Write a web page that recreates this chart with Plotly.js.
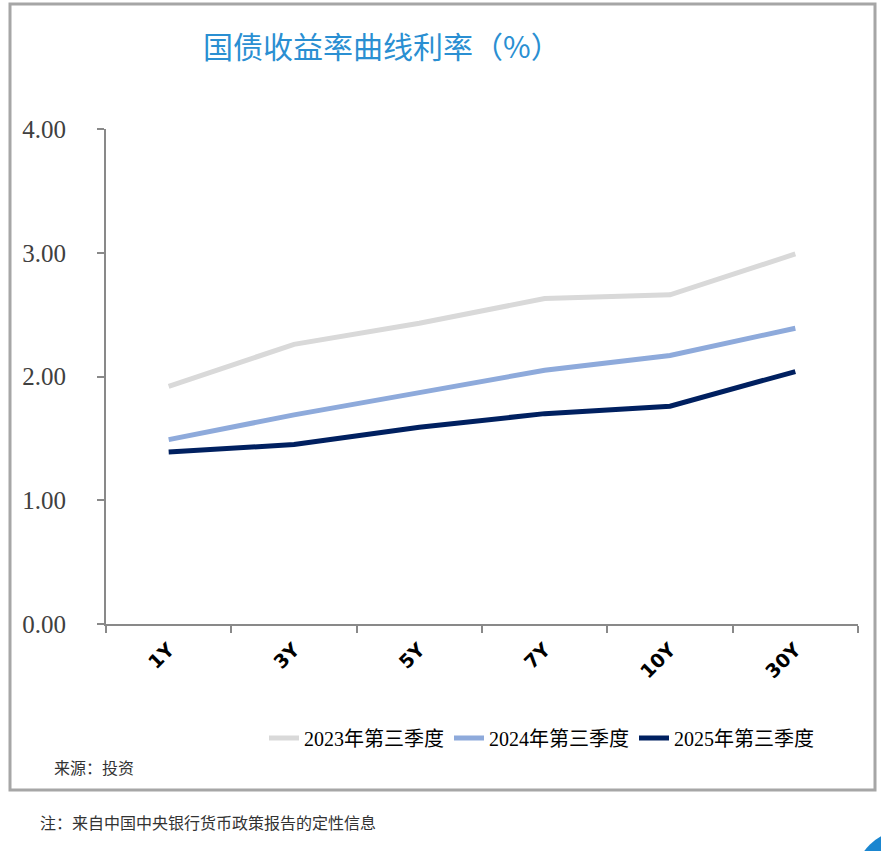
<!DOCTYPE html>
<html>
<head>
<meta charset="utf-8">
<script src="https://cdn.plot.ly/plotly-3.0.1.min.js"></script>
<style>
html,body{margin:0;padding:0;background:#fff;}
#chart{width:881px;height:851px;}
</style>
</head>
<body>
<div id="chart"></div>
<script>
const categories = ["1Y", "3Y", "5Y", "7Y", "10Y", "30Y"];
const series2023 = [1.92, 2.26, 2.43, 2.63, 2.66, 2.99];
const series2024 = [1.49, 1.69, 1.87, 2.05, 2.17, 2.39];
const series2025 = [1.39, 1.45, 1.59, 1.70, 1.76, 2.04];
const seriesNames = ["2023年第三季度", "2024年第三季度", "2025年第三季度"];
const yTicks = [0, 1, 2, 3, 4];
const yTickLabels = ["0.00", "1.00", "2.00", "3.00", "4.00"];

const W = 881, H = 851;
const L = 106, R = 858, T = 129, B = 624;
const px = v => (v - L) / (R - L);
const py = v => (B - v) / (B - T);

const colors = ["#d9d9d9", "#8eaadb", "#002060"];
const data = [series2023, series2024, series2025].map((ys, i) => ({
  type: "scatter",
  mode: "lines",
  x: categories,
  y: ys,
  name: seriesNames[i],
  line: {color: colors[i], width: 5},
  hoverinfo: "x+y+name"
}));

const layout = {
  width: W, height: H,
  margin: {l: L, r: W - R, t: T, b: H - B, pad: 0},
  paper_bgcolor: "#ffffff",
  plot_bgcolor: "#ffffff",
  title: {
    text: "国债收益率曲线利率（%）",
    x: 203 / W, xanchor: "left", xref: "container",
    y: 1 - 47 / H, yanchor: "middle", yref: "container",
    font: {family: "Noto Sans CJK SC, sans-serif", size: 30, color: "#2a8fd2"}
  },
  xaxis: {
    type: "category",
    range: [-0.5, 5.5],
    tickson: "boundaries",
    ticks: "outside", ticklen: 7, tickwidth: 2, tickcolor: "#898989",
    showline: true, linecolor: "#898989", linewidth: 2,
    showgrid: false, zeroline: false,
    tickangle: -45,
    ticklabelstandoff: 5,
    tickfont: {family: "DejaVu Sans, sans-serif", size: 19, color: "#000000", weight: "bold"}
  },
  yaxis: {
    range: [0, 4],
    tickvals: yTicks, ticktext: yTickLabels,
    ticks: "outside", ticklen: 7, tickwidth: 2, tickcolor: "#898989",
    showline: true, linecolor: "#898989", linewidth: 2,
    showgrid: false, zeroline: false,
    ticklabelstandoff: 26,
    tickfont: {family: "Liberation Serif, serif", size: 25, color: "#404040"}
  },
  showlegend: true,
  legend: {
    orientation: "h",
    x: px(264), xanchor: "left",
    y: py(738), yanchor: "middle",
    bgcolor: "rgba(0,0,0,0)",
    font: {family: "Liberation Serif, Noto Sans CJK SC, serif", size: 20, color: "#000000"},
    itemwidth: 30,
    traceorder: "normal"
  },
  annotations: [
    {text: "来源：投资", xref: "paper", yref: "paper", x: px(52), y: py(767),
     xanchor: "left", yanchor: "middle", showarrow: false,
     font: {family: "Noto Sans CJK SC, sans-serif", size: 16, color: "#333333"}},
    {text: "注：来自中国中央银行货币政策报告的定性信息", xref: "paper", yref: "paper", x: px(38), y: py(822),
     xanchor: "left", yanchor: "middle", showarrow: false,
     font: {family: "Noto Sans CJK SC, sans-serif", size: 16, color: "#333333"}}
  ],
  shapes: [
    {type: "rect", xref: "paper", yref: "paper", x0: px(10), x1: px(875), y0: py(4), y1: py(790),
     line: {color: "#a6a6a6", width: 3}, fillcolor: "rgba(0,0,0,0)", layer: "below"},
    {type: "circle", xref: "paper", yref: "paper", x0: px(855), x1: px(955), y0: py(830), y1: py(930),
     line: {width: 0}, fillcolor: "#1a86d0", layer: "above"}
  ]
};

Plotly.newPlot("chart", data, layout, {displayModeBar: false, staticPlot: true});
</script>
</body>
</html>
